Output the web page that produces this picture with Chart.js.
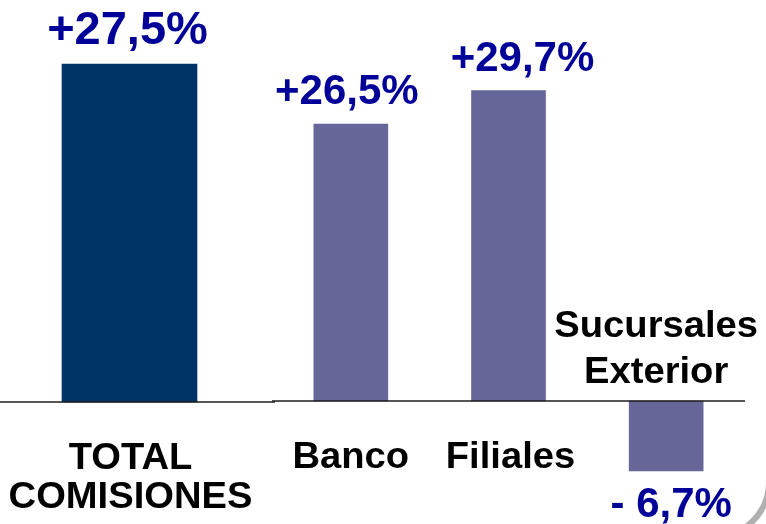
<!DOCTYPE html>
<html>
<head>
<meta charset="utf-8">
<script src="https://cdn.jsdelivr.net/npm/chart.js@4.4.1/dist/chart.umd.min.js"></script>
<style>
  html, body { margin: 0; padding: 0; background: #fff; }
  #wrap { position: relative; width: 766px; height: 524px; overflow: hidden; background: #fff; }
  #frame { position: absolute; left: -100px; top: -100px; width: 860px; height: 628px;
           border: 6px solid #b0b0b0; border-radius: 58px; }
  canvas { position: absolute; top: 0; }
  #totalChart { left: 0; }
  #detailChart { left: 272px; }
</style>
</head>
<body>
<div id="wrap">
  <div id="frame"></div>
  <canvas id="totalChart" width="275" height="524"></canvas>
  <canvas id="detailChart" width="494" height="524"></canvas>
</div>
<script>
// variación de comisiones (%)
const totalLabels = [['TOTAL', 'COMISIONES']];
const totalGrowth = [27.5];
const detailLabels = ['Banco', 'Filiales', ['Sucursales', 'Exterior']];
const detailGrowth = [26.5, 29.7, -6.7];

function fmt(v) {
    const s = Math.abs(v).toFixed(1).replace('.', ',') + '%';
    return v >= 0 ? '+' + s : '- ' + s;
}

// baseline, value labels and category labels
const barLabels = {
    id: 'barLabels',
    afterDatasetsDraw(chart, args, opts) {
        const ctx = chart.ctx;
        const zero = chart.scales.y.getPixelForValue(0);
        const area = chart.chartArea;
        ctx.save();
        ctx.strokeStyle = '#1c1c1c';
        ctx.lineWidth = 1.6;
        ctx.beginPath();
        ctx.moveTo(0, zero);
        ctx.lineTo(opts.lineToCanvasEdge ? chart.width : area.right, zero);
        ctx.stroke();

        const ds = chart.data.datasets[0];
        chart.getDatasetMeta(0).data.forEach((bar, i) => {
            const v = ds.data[i];
            const shift = opts.shift[i] || [0, 0];
            ctx.textAlign = 'center';
            ctx.textBaseline = 'alphabetic';

            // value
            ctx.fillStyle = '#000099';
            ctx.font = 'bold ' + opts.valueSize[i] + 'px "Liberation Sans", Arial, sans-serif';
            const vy = v >= 0 ? bar.y - 20 : bar.y + 46;
            ctx.fillText(fmt(v), bar.x + shift[0], vy);

            // category
            let lines = chart.data.labels[i];
            if (!Array.isArray(lines)) lines = [lines];
            ctx.fillStyle = '#000';
            ctx.font = 'bold 36px "Liberation Sans", Arial, sans-serif';
            lines.forEach((t, k) => {
                let y;
                if (v >= 0) y = zero + 67 + k * 39;
                else y = zero - 18 - (lines.length - 1 - k) * 46;
                ctx.save();
                ctx.translate(bar.x + shift[1], y);
                ctx.scale(1.06, 1);
                ctx.fillText(t, 0, 0);
                ctx.restore();
            });
        });
        ctx.restore();
    }
};

const common = {
    responsive: false,
    animation: false,
    devicePixelRatio: 1,
    events: [],
    plugins: { legend: { display: false }, tooltip: { enabled: false } }
};

new Chart(document.getElementById('totalChart'), {
    type: 'bar',
    data: {
        labels: totalLabels,
        datasets: [{ data: totalGrowth, backgroundColor: '#003366', borderWidth: 0, barThickness: 135 }]
    },
    options: {
        ...common,
        layout: { padding: { left: 0, right: 16, top: 0, bottom: 0 } },
        scales: {
            x: { display: false },
            y: { display: false, min: -9.93, max: 32.71 }
        },
        plugins: {
            ...common.plugins,
            barLabels: { lineToCanvasEdge: true, valueSize: [47], shift: [[-2, 1]] }
        }
    },
    plugins: [barLabels]
});

new Chart(document.getElementById('detailChart'), {
    type: 'bar',
    data: {
        labels: detailLabels,
        datasets: [{ data: detailGrowth, backgroundColor: '#666699', borderWidth: 0, barThickness: 74 }]
    },
    options: {
        ...common,
        layout: { padding: { left: 0, right: 21, top: 0, bottom: 0 } },
        scales: {
            x: { display: false },
            y: { display: false, min: -11.77, max: 38.37 }
        },
        plugins: {
            ...common.plugins,
            barLabels: { lineToCanvasEdge: false, valueSize: [42, 42, 42], shift: [[-4, 0], [14, 2], [5, -10]] }
        }
    },
    plugins: [barLabels]
});
</script>
</body>
</html>
